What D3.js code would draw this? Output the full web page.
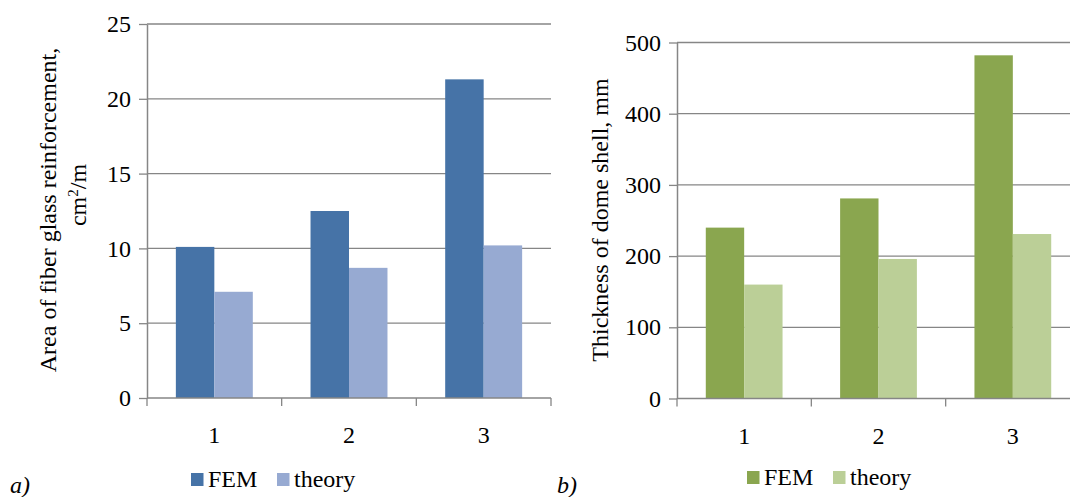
<!DOCTYPE html>
<html>
<head>
<meta charset="utf-8">
<script src="https://cdn.jsdelivr.net/npm/d3@7"></script>
</head>
<body style="margin:0; background:#fff">
<svg id="chart" width="1070" height="497"></svg>
<script>
// ─── DATA ────────────────────────────────────────────────────────────────────

const categories = ["1", "2", "3"];
const seriesNames = ["FEM", "theory"];

const areaFEM = [10.1, 12.5, 21.3];
const areaTheory = [7.1, 8.7, 10.2];
const areaTicks = [0, 5, 10, 15, 20, 25];

const thickFEM = [240, 281, 482];
const thickTheory = [160, 196, 231];
const thickTicks = [0, 100, 200, 300, 400, 500];

// ─── SETUP ───────────────────────────────────────────────────────────────────

const svg = d3.select("#chart");
const gridColor = "#868686";
const fontSize = 24;
const serif = "'Liberation Serif', 'Times New Roman', serif";

function txt(sel, size = fontSize) {
  return sel
    .style("font-family", serif)
    .style("font-size", size + "px")
    .style("fill", "#000");
}

function drawPanel(opt) {
  const g = svg.append("g");
  const [x0r, x1r] = opt.xRange;

  const y = d3.scaleLinear().domain([0, d3.max(opt.ticks)]).range(opt.yRange);

  const x = d3
    .scaleBand()
    .domain(categories)
    .range(opt.xRange)
    .paddingInner(3 / 7)
    .paddingOuter(3 / 14);

  const xs = d3
    .scaleBand()
    .domain(seriesNames)
    .range([0, x.bandwidth()]);

  // gridlines
  g.append("g")
    .selectAll("line")
    .data(opt.ticks.filter((t) => t > 0))
    .join("line")
    .attr("x1", x0r)
    .attr("x2", x1r)
    .attr("y1", (d) => y(d))
    .attr("y2", (d) => y(d))
    .attr("stroke", gridColor)
    .attr("stroke-width", 1.3);

  // bars
  const rows = categories.map((c, i) => ({
    cat: c,
    vals: [opt.fem[i], opt.theory[i]],
  }));

  g.append("g")
    .selectAll("g")
    .data(rows)
    .join("g")
    .attr("transform", (d) => `translate(${x(d.cat)},0)`)
    .selectAll("rect")
    .data((d) => d.vals.map((v, j) => ({ key: seriesNames[j], v })))
    .join("rect")
    .attr("x", (d) => xs(d.key))
    .attr("width", xs.bandwidth())
    .attr("y", (d) => y(d.v))
    .attr("height", (d) => y(0) - y(d.v))
    .attr("fill", (d, j) => opt.colors[j]);

  // y axis
  const yAxis = g
    .append("g")
    .attr("transform", `translate(${x0r},0)`)
    .call(d3.axisLeft(y).tickValues(opt.ticks).tickSize(8).tickPadding(8).tickSizeOuter(0));
  yAxis.select(".domain").attr("stroke", gridColor).attr("stroke-width", 1.5);
  yAxis.selectAll(".tick line").attr("stroke", gridColor).attr("stroke-width", 1.3);
  yAxis.selectAll(".tick text").call(txt);

  // x axis (baseline + boundary ticks)
  const step = x.step();
  const bounds = d3.range(categories.length + 1).map((i) => x0r + i * step);
  g.append("line")
    .attr("x1", x0r)
    .attr("x2", x1r)
    .attr("y1", y(0))
    .attr("y2", y(0))
    .attr("stroke", gridColor)
    .attr("stroke-width", 1.5);
  g.append("g")
    .selectAll("line")
    .data(bounds)
    .join("line")
    .attr("x1", (d) => d)
    .attr("x2", (d) => d)
    .attr("y1", y(0))
    .attr("y2", y(0) + 8)
    .attr("stroke", gridColor)
    .attr("stroke-width", 1.3);
  g.append("g")
    .selectAll("text")
    .data(categories)
    .join("text")
    .attr("x", (d) => x(d) + x.bandwidth() / 2)
    .attr("y", y(0) + 45)
    .attr("text-anchor", "middle")
    .call(txt)
    .text((d) => d);

  // y title
  opt.title.forEach((line) => {
    const t = g
      .append("text")
      .attr("transform", `translate(${line.x},${line.y}) rotate(-90)`)
      .attr("text-anchor", "middle")
      .call(txt);
    if (line.sup) {
      t.append("tspan").text(line.text[0]);
      t.append("tspan").attr("dy", -8).style("font-size", "15px").text(line.text[1]);
      t.append("tspan").attr("dy", 8).text(line.text[2]);
    } else {
      t.text(line.text);
    }
  });

  // legend
  const lg = g.append("g");
  seriesNames.forEach((s, j) => {
    const lx = opt.legend[j];
    lg.append("rect")
      .attr("x", lx)
      .attr("y", opt.legendY - 14)
      .attr("width", 12.5)
      .attr("height", 13)
      .attr("fill", opt.colors[j]);
    lg.append("text")
      .attr("x", lx + 17)
      .attr("y", opt.legendY)
      .call(txt)
      .text(s);
  });

  // panel tag
  g.append("text")
    .attr("x", opt.tag.x)
    .attr("y", opt.tag.y)
    .call(txt)
    .style("font-style", "italic")
    .text(opt.tag.text);
}

drawPanel({
  xRange: [147, 551],
  yRange: [398, 24],
  ticks: areaTicks,
  fem: areaFEM,
  theory: areaTheory,
  colors: ["#4673A7", "#97AAD2"],
  title: [
    { x: 56, y: 210, text: "Area of fiber glass reinforcement," },
    { x: 86, y: 195, sup: true, text: ["cm", "2", "/m"] },
  ],
  legend: [191, 277],
  legendY: 487,
  tag: { x: 10, y: 493, text: "a)" },
});

drawPanel({
  xRange: [677, 1080],
  yRange: [398.5, 42.5],
  ticks: thickTicks,
  fem: thickFEM,
  theory: thickTheory,
  colors: ["#8AA64F", "#BBCF97"],
  title: [{ x: 608, y: 220, text: "Thickness of dome shell, mm" }],
  legend: [747, 833],
  legendY: 485,
  tag: { x: 557, y: 493, text: "b)" },
});
</script>
</body>
</html>
